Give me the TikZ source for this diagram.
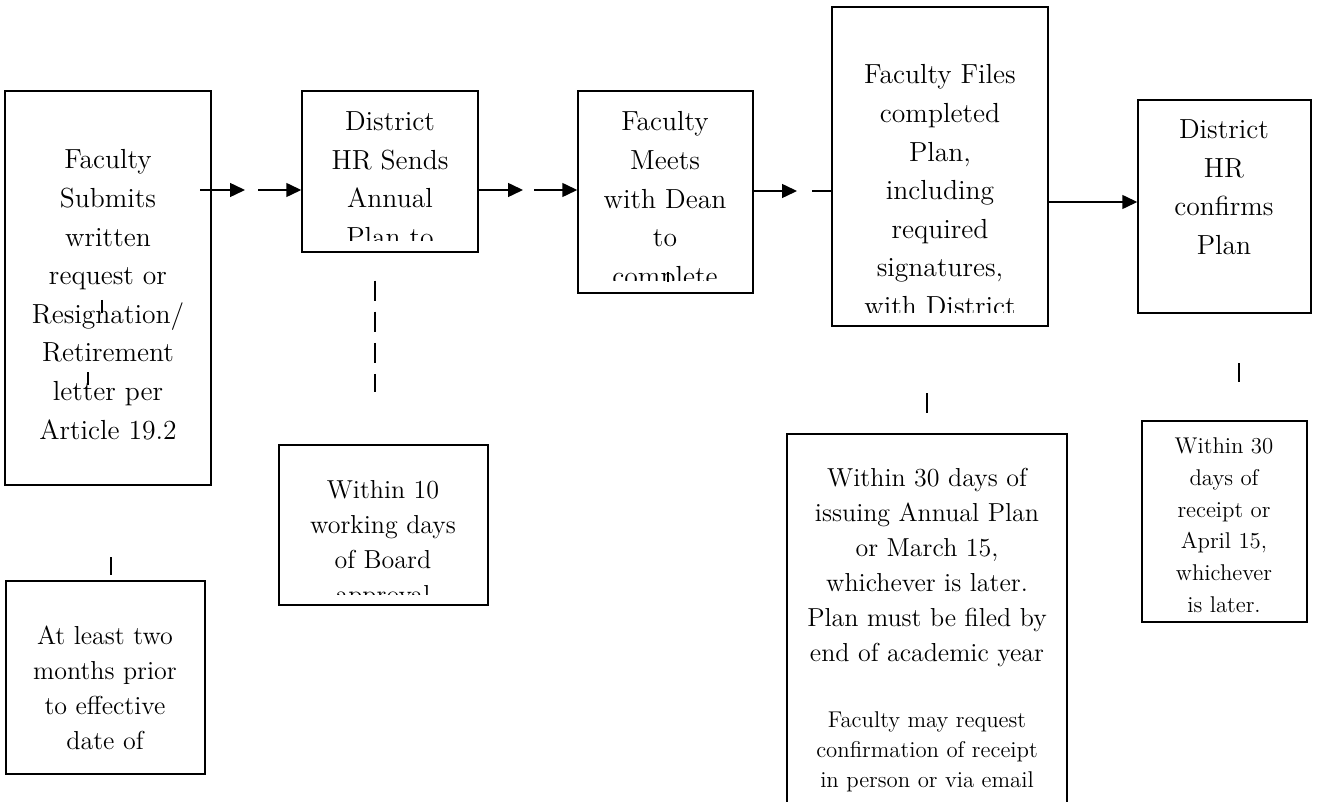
\documentclass[tikz,border=0pt]{standalone}
\usepackage{tikz}
\usetikzlibrary{arrows.meta,fit}
\tikzset{
every picture/.style={
line width=0.75pt
},
stepbox/.style={draw, inner sep=0pt},
steptext/.style={align=center, inner sep=0pt, anchor=north, font=\fontsize{13.8}{19.3}\selectfont},
timetext/.style={steptext, font=\fontsize{13}{17.5}\selectfont},
smalltext/.style={steptext, font=\fontsize{11.4}{15.9}\selectfont},
arr/.style={-{Triangle[length=7.5pt,width=7pt]}}
}

\begin{document}
\begin{tikzpicture}[x=0.5pt, y=-0.5pt]
\clip (0,0) rectangle (1317,802);

% steps
\node[stepbox, fit={(5,91) (211,485)}] (submit) {};
\node[stepbox, fit={(302,91) (478,252)}] (sends) {};
\node[stepbox, fit={(578,91) (753,293)}] (meets) {};
\node[stepbox, fit={(832,7) (1048,326)}] (files) {};
\node[stepbox, fit={(1138,100) (1311,313)}] (confirm) {};

% time limits
\node[stepbox, fit={(6,581) (205,774)}] (prior) {};
\node[stepbox, fit={(279,445) (488,605)}] (board) {};
\node[stepbox, fit={(787,434) (1067,830)}] (within) {};
\node[stepbox, fit={(1142,421) (1307,622)}] (receipt) {};

\node[steptext] (submittxt) at (108,149) {Faculty\\Submits\\written\\request or\\Resignation/\\Retirement\\letter per\\Article 19.2};
\begin{scope}
\clip (302,91) rectangle (478,241);
\node[steptext] (sendstxt) at (390,111) {District\\HR Sends\\Annual\\Plan to};
\end{scope}
\begin{scope}
\clip (578,91) rectangle (753,281);
\node[steptext] (meetstxt) at (665,111) {Faculty\\Meets\\with Dean\\to\\complete};
\end{scope}
\begin{scope}
\clip (832,7) rectangle (1048,313);
\node[steptext] (filestxt) at (940,64) {Faculty Files\\completed\\Plan,\\including\\required\\signatures,\\with District};
\end{scope}
\node[steptext] (confirmtxt) at (1224,119) {District\\HR\\confirms\\Plan};

\node[timetext] (priortxt) at (105,625) {At least two\\months prior\\to effective\\date of};
\begin{scope}
\clip (279,445) rectangle (488,594);
\node[timetext] (boardtxt) at (383,480) {Within 10\\working days\\of Board\\approval};
\end{scope}
\node[timetext] (withintxt) at (927,467) {Within 30 days of\\issuing Annual Plan\\or March 15,\\whichever is later.\\Plan must be filed by\\end of academic year};
\node[smalltext, font=\fontsize{11.4}{15}\selectfont] (withinnote) at (927,711) {Faculty may request\\confirmation of receipt\\in person or via email};
\node[smalltext] (receipttxt) at (1224,437) {Within 30\\days of\\receipt or\\April 15,\\whichever\\is later.};

% connectors
\coordinate (ab0) at (200,190);
\coordinate (ab1) at (245,190);
\coordinate (ab2) at (258,190);
\coordinate (bc1) at (523,190);
\coordinate (bc2) at (534,190);
\coordinate (cd1) at (797,191);
\coordinate (cd2) at (812,191);
\coordinate (de) at (1100,202);

\draw[arr] (ab0) -- (ab1);
\draw[arr] (ab2) -- (sends.west |- ab2);
\draw[arr] (sends.east |- bc1) -- (bc1);
\draw[arr] (bc2) -- (meets.west |- bc2);
\draw[arr] (meets.east |- cd1) -- (cd1);
\draw (cd2) -- (files.west |- cd2);
\draw[arr] (files.east |- de) -- (confirm.west |- de);

\draw[dash pattern=on 10pt off 5.5pt, shorten <=14pt, shorten >=26pt] (sends.south -| 375,0) -- (board.north -| 375,0);

% broken ticks
\foreach \x/\ya/\yb in {102/300/313, 88/372/385, 111/557/575, 668/272/282, 927/393/413, 1239/363/382}{
  \draw (\x,\ya) -- (\x,\yb);
}
\end{tikzpicture}
\end{document}
